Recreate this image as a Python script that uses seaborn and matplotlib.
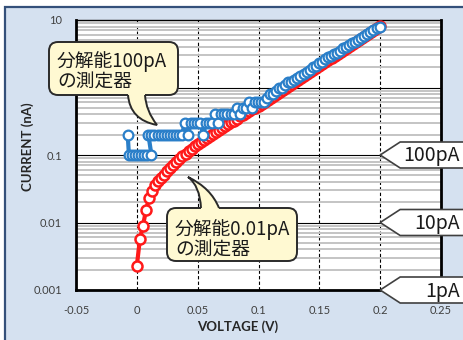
import numpy as np
import matplotlib
matplotlib.use("Agg")
import matplotlib.pyplot as plt
import seaborn as sns
from matplotlib.patches import Rectangle, FancyBboxPatch, PathPatch, Polygon
from matplotlib.path import Path
from matplotlib.transforms import Affine2D
from matplotlib.ticker import LogLocator, NullFormatter

W, H = 463, 340

# fine instrument (0.01pA resolution), voltage in V, current in nA
VOLT_FINE = [
    0.0, 0.0025, 0.005, 0.0075, 0.01, 0.0125, 0.015, 0.0175, 0.02, 0.0225,
    0.025, 0.0275, 0.03, 0.0325, 0.035, 0.0375, 0.04, 0.0425, 0.045, 0.0475,
    0.05, 0.0525, 0.055, 0.0575, 0.06, 0.0625, 0.065, 0.0675, 0.07, 0.0725,
    0.075, 0.0775, 0.08, 0.0825, 0.085, 0.0875, 0.09, 0.0925, 0.095, 0.0975,
    0.1, 0.1025, 0.105, 0.1075, 0.11, 0.1125, 0.115, 0.1175, 0.12, 0.1225,
    0.125, 0.1275, 0.13, 0.1325, 0.135, 0.1375, 0.14, 0.1425, 0.145, 0.1475,
    0.15, 0.1525, 0.155, 0.1575, 0.16, 0.1625, 0.165, 0.1675, 0.17, 0.1725,
    0.175, 0.1775, 0.18, 0.1825, 0.185, 0.1875, 0.19, 0.1925, 0.195, 0.1975,
    0.2,
]
CURR_FINE = [
    0.00229, 0.00562, 0.00891, 0.0151, 0.0229, 0.0295, 0.0355, 0.0407, 0.0457, 0.0513,
    0.0575, 0.0646, 0.0708, 0.0794, 0.0871, 0.0955, 0.105, 0.115, 0.123, 0.135,
    0.145, 0.155, 0.166, 0.178, 0.191, 0.204, 0.219, 0.234, 0.251, 0.269,
    0.288, 0.305, 0.324, 0.347, 0.372, 0.394, 0.417, 0.447, 0.473, 0.501,
    0.537, 0.575, 0.615, 0.658, 0.705, 0.754, 0.807, 0.864, 0.925, 0.990,
    1.06, 1.13, 1.21, 1.30, 1.39, 1.49, 1.59, 1.70, 1.82, 1.95,
    2.09, 2.24, 2.39, 2.56, 2.74, 2.94, 3.14, 3.36, 3.60, 3.85,
    4.12, 4.41, 4.72, 5.05, 5.41, 5.79, 6.19, 6.63, 7.10, 7.60,
    8.13,
]

# coarse instrument (100pA resolution)
VOLT_COARSE = [
    -0.0075, -0.0065, -0.004, -0.0015, 0.001, 0.0035, 0.006, 0.0085, 0.012,
    0.0095, 0.012, 0.0145, 0.017, 0.0195, 0.022, 0.0245, 0.027, 0.0295, 0.032, 0.0345, 0.037,
    0.0395, 0.042, 0.0445, 0.047, 0.0495, 0.052, 0.0545, 0.057, 0.0595, 0.062,
    0.0645, 0.067, 0.0695, 0.072, 0.0745, 0.077, 0.0795, 0.082, 0.0845, 0.087,
    0.0895, 0.092, 0.0945, 0.097, 0.0995, 0.102, 0.1045, 0.107, 0.1095, 0.112,
    0.1145, 0.117, 0.1195, 0.122,
    0.1245, 0.127, 0.1295, 0.132, 0.1345, 0.137, 0.1395, 0.142, 0.1445, 0.147,
    0.1495, 0.152, 0.1545, 0.157, 0.1595, 0.162, 0.1645, 0.167, 0.1695, 0.172,
    0.1745, 0.177, 0.1795, 0.182, 0.1845, 0.187, 0.1895, 0.192, 0.1945, 0.197,
    0.1995,
]
CURR_COARSE = [
    0.2, 0.1, 0.1, 0.1, 0.1, 0.1, 0.1, 0.1, 0.1,
    0.2, 0.2, 0.2, 0.2, 0.2, 0.2, 0.2, 0.2, 0.2, 0.2, 0.2, 0.2,
    0.3, 0.2, 0.3, 0.3, 0.3, 0.3, 0.2, 0.3, 0.3, 0.3,
    0.4, 0.3, 0.4, 0.4, 0.4, 0.4, 0.4, 0.5, 0.4, 0.5,
    0.5, 0.6, 0.5, 0.6, 0.6, 0.6, 0.6, 0.7, 0.8, 0.8,
    0.9, 1.0, 1.0, 1.1,
    1.2, 1.2, 1.3, 1.4, 1.5, 1.6, 1.7, 1.8, 2.0, 2.1,
    2.3, 2.4, 2.6, 2.8, 2.9, 3.1, 3.3, 3.5, 3.8, 4.0,
    4.3, 4.5, 4.8, 5.1, 5.5, 5.8, 6.2, 6.6, 7.0, 7.5,
    8.0,
]

X_TICKS = [-0.05, 0, 0.05, 0.1, 0.15, 0.2, 0.25]
X_TICK_LABELS = ["-0.05", "0", "0.05", "0.1", "0.15", "0.2", "0.25"]
Y_TICKS = [0.001, 0.01, 0.1, 1, 10]
# the "1" label sits under the upper callout in the reference
Y_TICK_LABELS = ["0.001", "0.01", "0.1", "", "10"]

LEVEL_VOLT = 0.2
LEVEL_CURR = [0.1, 0.01, 0.001]
LEVEL_TEXT = ["100pA", "10pA", "1pA"]

NOTE_COARSE = ["分解能100pA", "の測定器"]
NOTE_FINE = ["分解能0.01pA", "の測定器"]

RED = "#ff1a1a"
BLUE = "#2a7fc9"
CJK = ["Noto Sans CJK JP", "DejaVu Sans"]

sns.set_style("white")
plt.rcParams["font.family"] = ["Lato", "Noto Sans CJK JP", "DejaVu Sans"]

fig = plt.figure(figsize=(W / 100, H / 100), dpi=100)
fig.patch.set_facecolor("white")
# pixel coordinates, origin top-left
px = Affine2D().scale(1 / W, -1 / H).translate(0, 1) + fig.transFigure

fig.add_artist(Rectangle((5, 7), W, H, transform=px, facecolor="#d5e1f0",
                         edgecolor="#34507a", lw=1.6, zorder=0))

ax = fig.add_axes([76 / W, 1 - 290 / H, 365 / W, 270 / H])
ax.set_facecolor("white")

sns.lineplot(x=VOLT_FINE, y=CURR_FINE, ax=ax, sort=False, estimator=None,
             color=RED, linewidth=3.0, marker="o", markersize=7.2,
             markerfacecolor="white", markeredgecolor=RED, markeredgewidth=1.8,
             zorder=3)
sns.lineplot(x=VOLT_COARSE, y=CURR_COARSE, ax=ax, sort=False, estimator=None,
             color=BLUE, linewidth=3.0, marker="o", markersize=7.0,
             markerfacecolor="white", markeredgecolor=BLUE, markeredgewidth=1.6,
             zorder=4)

ax.set_yscale("log")
ax.set_xlim(-0.05, 0.25)
ax.set_ylim(0.001, 10)
ax.set_xticks(X_TICKS, X_TICK_LABELS)
ax.set_yticks(Y_TICKS, Y_TICK_LABELS)
ax.yaxis.set_minor_locator(LogLocator(base=10, subs=np.arange(2, 10)))
ax.yaxis.set_minor_formatter(NullFormatter())
ax.tick_params(which="both", length=0, labelsize=8, labelcolor="#404040")
ax.tick_params(axis="y", pad=10)
ax.tick_params(axis="x", pad=11)

ax.grid(False)
ax.yaxis.grid(True, which="minor", color="#c4c4c4", lw=1.4)
ax.yaxis.grid(True, which="major", color="black", lw=0.8)
ax.xaxis.grid(True, which="major", color="black", lw=0.8, ls=(0, (3, 2)))
ax.set_axisbelow(True)

for side in ["left", "bottom", "right"]:
    ax.spines[side].set_linewidth(2)
    ax.spines[side].set_color("black")
ax.spines["top"].set_linewidth(1)
ax.spines["top"].set_color("black")

ax.set_xlabel("VOLTAGE (V)", fontsize=9.5, fontweight="bold", color="#262626")
ax.xaxis.set_label_coords((238 - 76) / 365, -(320 - 290) / 270)
ax.set_ylabel("CURRENT (nA)", fontsize=9.5, fontweight="bold", color="#262626")
ax.yaxis.set_label_coords((34 - 76) / 365, (290 - 147) / 270)


def callout(box, tail, lines, text_x, text_y):
    x0, y0, w, h = box
    fig.add_artist(FancyBboxPatch((x0, y0), w, h, boxstyle="round,pad=0,rounding_size=9",
                                  transform=px, facecolor="#fff9d2", edgecolor="#2a2a2a",
                                  lw=1.4, zorder=5))
    (bl, c1, tip, c2, br, inner) = tail
    outline = Path([bl, c1, tip, c2, br],
                   [Path.MOVETO, Path.CURVE3, Path.CURVE3, Path.CURVE3, Path.CURVE3])
    fill = Path([bl, c1, tip, c2, br, (br[0], inner), (bl[0], inner), bl],
                [Path.MOVETO, Path.CURVE3, Path.CURVE3, Path.CURVE3, Path.CURVE3,
                 Path.LINETO, Path.LINETO, Path.CLOSEPOLY])
    fig.add_artist(PathPatch(fill, transform=px, facecolor="#fff9d2", edgecolor="none", zorder=6))
    fig.add_artist(PathPatch(outline, transform=px, facecolor="none", edgecolor="#2a2a2a",
                             lw=1.4, zorder=7))
    for i, line in enumerate(lines):
        fig.text(text_x, text_y + i * 20.5, line, transform=px, fontsize=13.5,
                 family=CJK, color="#1a1a1a", ha="left", va="center", zorder=8)


callout((49, 42, 129, 53),
        ((128, 95), (130, 120), (157, 125), (146, 111), (145, 95), 92),
        NOTE_COARSE, 57, 62)
callout((167, 208, 130, 53),
        ((201, 208), (200, 186), (188, 177), (211, 188), (219, 208), 211),
        NOTE_FINE, 175, 230)

# level markers on the right
for cur, label in zip(LEVEL_CURR, LEVEL_TEXT):
    dx, dy = ax.transData.transform((LEVEL_VOLT, cur))
    tx, ty = dx, H - dy
    fig.add_artist(Polygon([(tx, ty), (tx + 20, ty - 13), (470, ty - 13),
                            (470, ty + 13), (tx + 20, ty + 13)], closed=True,
                           transform=px, facecolor="white", edgecolor="#404040",
                           lw=1.2, zorder=5))
    fig.text(460, ty + 1, label, transform=px, fontsize=14, family=CJK,
             color="#1a1a1a", ha="right", va="center", zorder=8)

fig.savefig("out.png", dpi=100)
